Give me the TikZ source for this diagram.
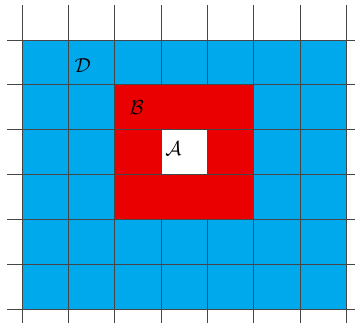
\documentclass[tikz,border=0pt]{standalone}
\usepackage{amsmath}
\usepackage{amssymb}
\usepackage{tikz}
\usetikzlibrary{calc,positioning}

\definecolor{regionD}{RGB}{0,169,236}
\definecolor{regionB}{RGB}{234,0,0}
\definecolor{gridline}{RGB}{70,70,70}

\begin{document}
\begin{tikzpicture}[x=1.389cm,y=1.344cm]
\useasboundingbox (-0.475,-0.335) rectangle (7.19,6.893);
\fill[regionD] (0,0) rectangle (7,6);
\fill[regionB] (2,2) rectangle (5,5);
\fill[white] (3,3) rectangle (4,4);
\draw[gridline,line width=0.6pt,step=1] (-0.32,-0.31) grid (7.19,6.78);

\node (D) at (1.31,5.43) {\LARGE $\mathcal{D}$};
\node (B) at (2.48,4.50) {\LARGE $\mathcal{B}$};
\node (A) at (3.27,3.57) {\LARGE $\mathcal{A}$};

\end{tikzpicture}
\end{document}
